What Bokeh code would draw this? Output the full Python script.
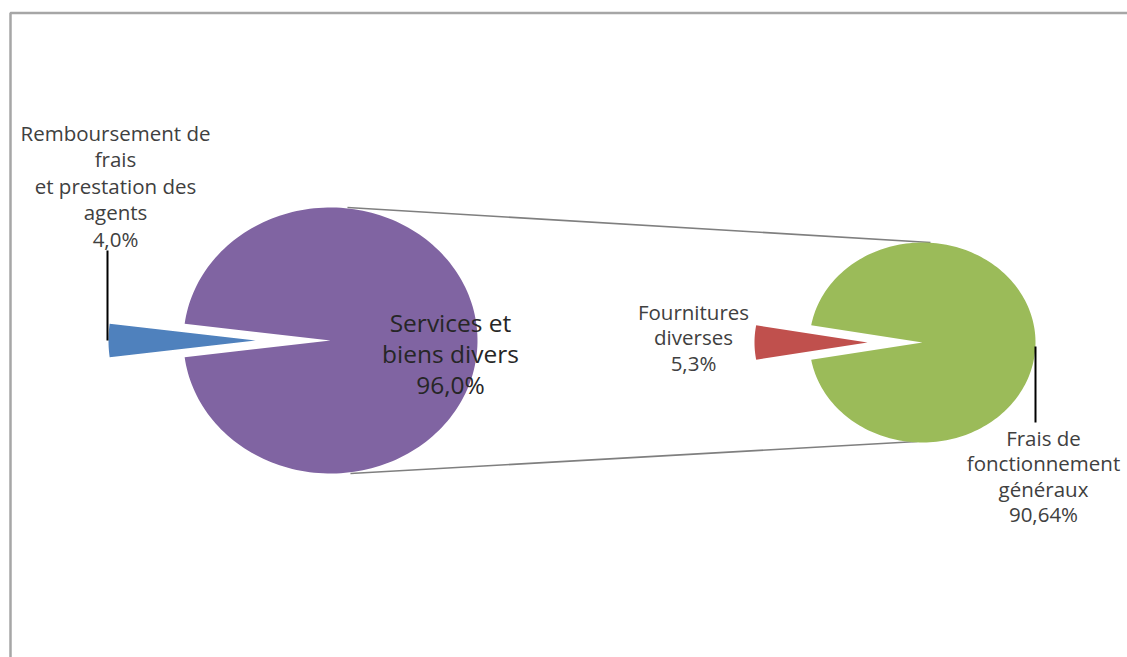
import numpy as np
from bokeh.plotting import figure
from bokeh.models import Range1d, ColumnDataSource
from bokeh.core.properties import value
from bokeh.embed import file_html
from bokeh.resources import INLINE

# ---- data ----
left_labels = ["Remboursement de\nfrais\net prestation des\nagents", "Services et\nbiens divers"]
left_values = [4.0, 96.0]
left_pct = ["4,0%", "96,0%"]
left_colors = ["#4F81BD", "#8064A2"]

right_labels = ["Fournitures\ndiverses", "Frais de\nfonctionnement\ngénéraux"]
right_values = [5.3, 90.64]
right_pct = ["5,3%", "90,64%"]
right_colors = ["#C0504D", "#9BBB59"]

W, H = 1127, 657
p = figure(width=W, height=H, output_backend="svg", toolbar_location=None,
           x_range=Range1d(0, W), y_range=Range1d(H, 0),
           min_border=0, outline_line_color=None)
p.axis.visible = False
p.grid.visible = False
p.background_fill_color = "white"
p.border_fill_color = "white"

# frame
p.quad(left=[10], right=[1300], top=[12.5], bottom=[900], fill_color=None,
       line_color="#a6a6a6", line_width=2.5)


def pie(cx, cy, rx, ry, values, colors, explode):
    total = float(sum(values))
    # first slice centred on 180 degrees (pointing left)
    first = values[0] / total * 2 * np.pi
    start = np.pi - first / 2
    xs, ys = [], []
    for i, v in enumerate(values):
        span = v / total * 2 * np.pi
        t = np.linspace(start, start + span, 200)
        mid = start + span / 2
        ox = explode[i] * np.cos(mid)
        oy = -explode[i] * np.sin(mid)
        px = [cx + ox] + list(cx + ox + rx * np.cos(t))
        py = [cy + oy] + list(cy + oy - ry * np.sin(t))
        xs.append(px)
        ys.append(py)
        start += span
    p.patches(xs, ys, fill_color=colors, line_color=None)


L_cx, L_cy, L_rx, L_ry = 330, 340, 147, 133
R_cx, R_cy, R_rx, R_ry = 922, 342, 113, 100

# connector lines
p.line([L_cx + 17, R_cx + 8], [L_cy - L_ry, R_cy - R_ry], line_color="#7f7f7f", line_width=1.6)
p.line([L_cx + 20, R_cx - 5], [L_cy + L_ry, R_cy + R_ry - 1], line_color="#7f7f7f", line_width=1.6)

pie(L_cx, L_cy, L_rx, L_ry, left_values, left_colors, [75, 0])
pie(R_cx, R_cy, R_rx, R_ry, right_values, right_colors, [55, 0])

# leader lines
p.line([107, 107], [250, 340], line_color="#000000", line_width=2)
p.line([1035, 1035], [346, 422], line_color="#000000", line_width=2)


def label(x, y0, step, name, pct, size, color):
    lines = name.split("\n") + [pct]
    src = ColumnDataSource(dict(x=[x] * len(lines), y=[y0 + i * step for i in range(len(lines))], t=lines))
    p.text(x="x", y="y", text="t", source=src, text_font=value("Open Sans"),
           text_font_size=value(size), text_color=color, text_align="center",
           text_baseline="middle")


label(115, 132, 26.5, left_labels[0], left_pct[0], "20.5px", "#404040")
label(450, 322, 31, left_labels[1], left_pct[1], "24.5px", "#262626")
label(693, 311, 25.5, right_labels[0], right_pct[0], "20.5px", "#404040")
label(1043, 437, 25.5, right_labels[1], right_pct[1], "20.5px", "#404040")

open("out.html", "w").write(file_html(p, INLINE))
